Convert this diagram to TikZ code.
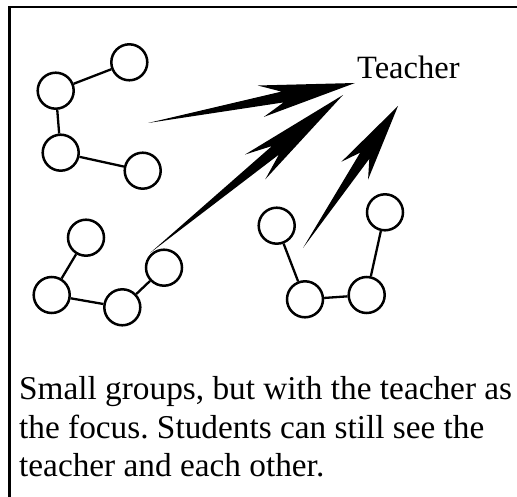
\documentclass[tikz,border=0pt]{standalone}
\usepackage{fontspec}
\setmainfont{Liberation Serif}
\usetikzlibrary{calc}
\frenchspacing
\tikzset{
  student/.style={circle, draw, line width=2.5pt, minimum size=36pt, inner sep=0pt},
  link/.style={line width=2.3pt},
  frameline/.style={line width=2.5pt},
  bigtext/.style={font=\fontsize{32.5}{38.7}\selectfont, inner sep=0pt, anchor=base west},
  captext/.style={font=\fontsize{33.3}{38.7}\selectfont, inner sep=0pt, anchor=base west},
}
\newcommand\spearto[2]{%
  \fill ($(#1)$)
    -- ($(#1)!0.65!(#2)!5.5pt!90:(#2)$)
    -- ($(#1)!0.545!(#2)!16pt!90:(#2)$)
    -- ($(#2)$)
    -- ($(#1)!0.545!(#2)!16pt!-90:(#2)$)
    -- ($(#1)!0.65!(#2)!5.5pt!-90:(#2)$)
    -- cycle;}
\begin{document}
\begin{tikzpicture}[x=1pt,y=-1pt]
\useasboundingbox (0,0) rectangle (517,497);
% frame
\coordinate (fbl) at (9.5,497);
\coordinate (ftl) at (9.5,7);
\coordinate (ftr) at (517,7);
\draw[frameline] (fbl) -- (ftl) -- (ftr);
% group 1
\node[student] (a1) at (129.3,62.3) {};
\node[student] (a2) at (55.7,90.7) {};
\node[student] (a3) at (60.7,152.7) {};
\node[student] (a4) at (142.7,170.7) {};
\draw[link] (a2) -- (a1);
\draw[link] (a2) -- (a3);
\draw[link] (a3) -- (a4);
% group 2
\node[student] (b1) at (86,237.7) {};
\node[student] (b2) at (51.7,295) {};
\node[student] (b3) at (122.3,307.3) {};
\node[student] (b4) at (164,267.7) {};
\draw[link] (b1) -- (b2);
\draw[link] (b2) -- (b3);
\draw[link] (b3) -- (b4);
% group 3
\node[student] (c1) at (276.7,225.7) {};
\node[student] (c2) at (305,299.3) {};
\node[student] (c3) at (366.7,295) {};
\node[student] (c4) at (385,212.3) {};
\draw[link] (c1) -- (c2);
\draw[link] (c2) -- (c3);
\draw[link] (c3) -- (c4);
% teacher
\node[bigtext] (teacher) at (357,79) {Teacher};
% arrows
\coordinate (t1) at (148,123);
\coordinate (p1) at (355,83);
\coordinate (t2) at (150,253);
\coordinate (p2) at (343,95);
\coordinate (t3) at (303,248);
\coordinate (p3) at (398,106);
\spearto{t1}{p1}
\spearto{t2}{p2}
\spearto{t3}{p3}
% caption
\node[captext] (cap1) at (19,399.3) {Small groups, but with the teacher as};
\node[captext] (cap2) at (19,438.3) {the focus. Students can still see the};
\node[captext] (cap3) at (19,476.7) {teacher and each other.};
\end{tikzpicture}
\end{document}
